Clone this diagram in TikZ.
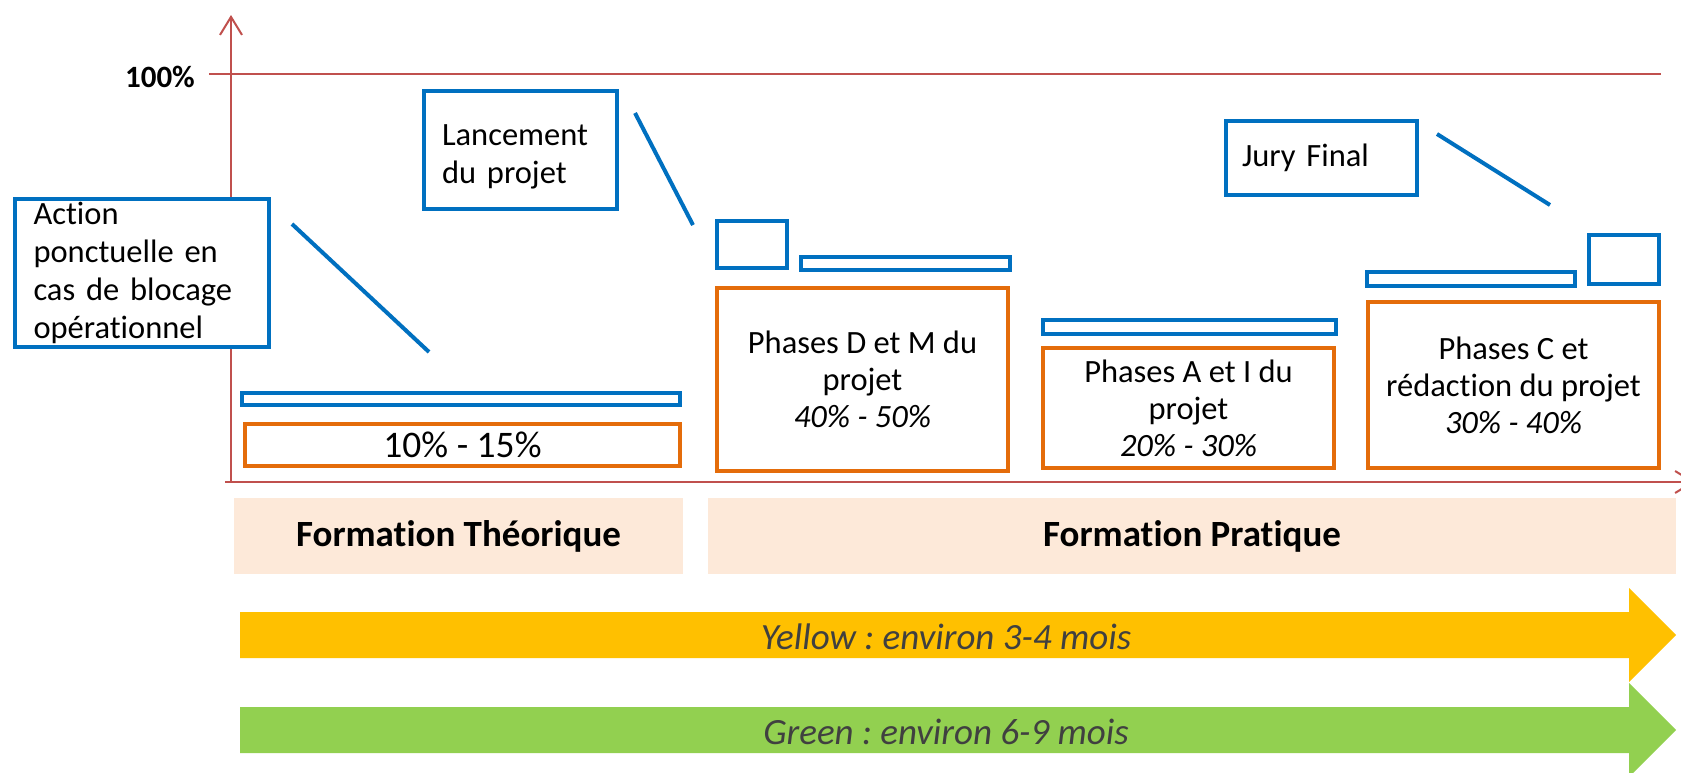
\documentclass[tikz,border=0pt]{standalone}
\usepackage{fontspec}
\setmainfont{Carlito}[Ligatures=NoCommon]
\usetikzlibrary{arrows.meta}
\definecolor{cblue}{HTML}{0070C0}
\definecolor{corange}{HTML}{E46C0A}
\definecolor{caxis}{HTML}{C0504D}
\definecolor{cband}{HTML}{FDE9D9}
\definecolor{cyellow}{HTML}{FFC000}
\definecolor{cgreen}{HTML}{92D050}
\definecolor{cgrey}{HTML}{404040}
\frenchspacing
\begin{document}
\begin{tikzpicture}[x=1pt,y=-1pt,
  bluebox/.style={draw=cblue, line width=4pt, fill=white, inner sep=0pt},
  notebox/.style={bluebox, align=left, font=\fontsize{32.5}{38}\selectfont},
  orangebox/.style={draw=corange, line width=4pt, fill=white, inner sep=0pt, align=center, font=\fontsize{32.5}{37}\selectfont},
  band/.style={fill=cband, inner sep=0pt, font=\bfseries\fontsize{37}{44}\selectfont},
  callout/.style={draw=cblue, line width=4pt},
  axisline/.style={draw=caxis, line width=2pt},
  arrowtext/.style={font=\itshape\fontsize{37}{44}\selectfont, text=cgrey, inner sep=0pt}
]
\clip (0,0) rectangle (1681,772);
\fill[white] (0,0) rectangle (1681,772);

% axes
\coordinate (origin) at (231,482);
\coordinate (ytop) at (231,15);
\coordinate (xstart) at (225,482);
\coordinate (xend) at (1695,482);
\coordinate (hstart) at (209,74);
\coordinate (hend) at (1661,74);
\draw[axisline] (hstart) -- (hend);
\draw[axisline, -{Straight Barb[length=18pt,width=22pt]}] (origin) -- (ytop);
\draw[axisline, -{Straight Barb[length=18pt,width=22pt]}] (xstart) -- (xend);
\node[anchor=east, inner sep=0pt, font=\bfseries\fontsize{31}{36}\selectfont] (hundred) at (195,77) {100\%};

% blue bars and squares
\node[bluebox, minimum width=438pt, minimum height=12pt] (bar1) at (461,399) {};
\node[bluebox, minimum width=70pt, minimum height=47pt] (sq1) at (752,244.5) {};
\node[bluebox, minimum width=209pt, minimum height=13pt] (bar2) at (905.5,263.5) {};
\node[bluebox, minimum width=293pt, minimum height=14pt] (bar3) at (1189.5,327) {};
\node[bluebox, minimum width=208pt, minimum height=14pt] (bar4) at (1471,279) {};
\node[bluebox, minimum width=70pt, minimum height=49pt] (sq2) at (1624,259.5) {};

% note boxes
\node[notebox, minimum width=254pt, minimum height=148pt, inner xsep=18.5pt, text width=217pt] (action) at (142,273)
  {Action\\ponctuelle en\\cas de blocage\\opérationnel};
\node[notebox, minimum width=193pt, minimum height=118pt, inner xsep=18pt, text width=157pt] (lancement) at (520.5,150)
  {\rule{0pt}{34pt}Lancement\\du projet};
\node[notebox, minimum width=191pt, minimum height=74pt, inner xsep=16pt, text width=159pt] (jury) at (1321.5,158)
  {Jury Final};

% callout lines
\coordinate (actA) at (292,224);
\coordinate (actB) at (429,352);
\coordinate (lanA) at (635,113);
\coordinate (lanB) at (693,225);
\coordinate (jurA) at (1437,134);
\coordinate (jurB) at (1550,205);
\draw[callout] (actA) -- (actB);
\draw[callout] (lanA) -- (lanB);
\draw[callout] (jurA) -- (jurB);

% orange boxes
\node[orangebox, minimum width=435pt, minimum height=42pt, font=\fontsize{37.5}{42}\selectfont] (o1) at (462.5,445) {10\% - 15\%};
\node[orangebox, minimum width=291pt, minimum height=183pt] (o2) at (862.5,379.5)
  {Phases D et M du\\projet\\\textit{40\% - 50\%}};
\node[orangebox, minimum width=291pt, minimum height=120pt] (o3) at (1188.5,408)
  {Phases A et I du\\projet\\\textit{20\% - 30\%}};
\node[orangebox, minimum width=291pt, minimum height=166pt] (o4) at (1513.5,385)
  {Phases C et\\rédaction du projet\\\textit{30\% - 40\%}};

% bands
\node[band, minimum width=449pt, minimum height=76pt] (theo) at (458.5,536) {Formation Théorique};
\node[band, minimum width=968pt, minimum height=76pt] (prat) at (1192,536) {Formation Pratique};

% duration arrows
\fill[cyellow] (240,612) -- (1629,612) -- (1629,588) -- (1676,635) -- (1629,682) -- (1629,658) -- (240,658) -- cycle;
\node[arrowtext] (yellow) at (946,637) {Yellow : environ 3-4 mois};
\fill[cgreen] (240,707) -- (1629,707) -- (1629,683) -- (1676,730) -- (1629,777) -- (1629,753) -- (240,753) -- cycle;
\node[arrowtext] (green) at (946,732) {Green : environ 6-9 mois};
\end{tikzpicture}
\end{document}
